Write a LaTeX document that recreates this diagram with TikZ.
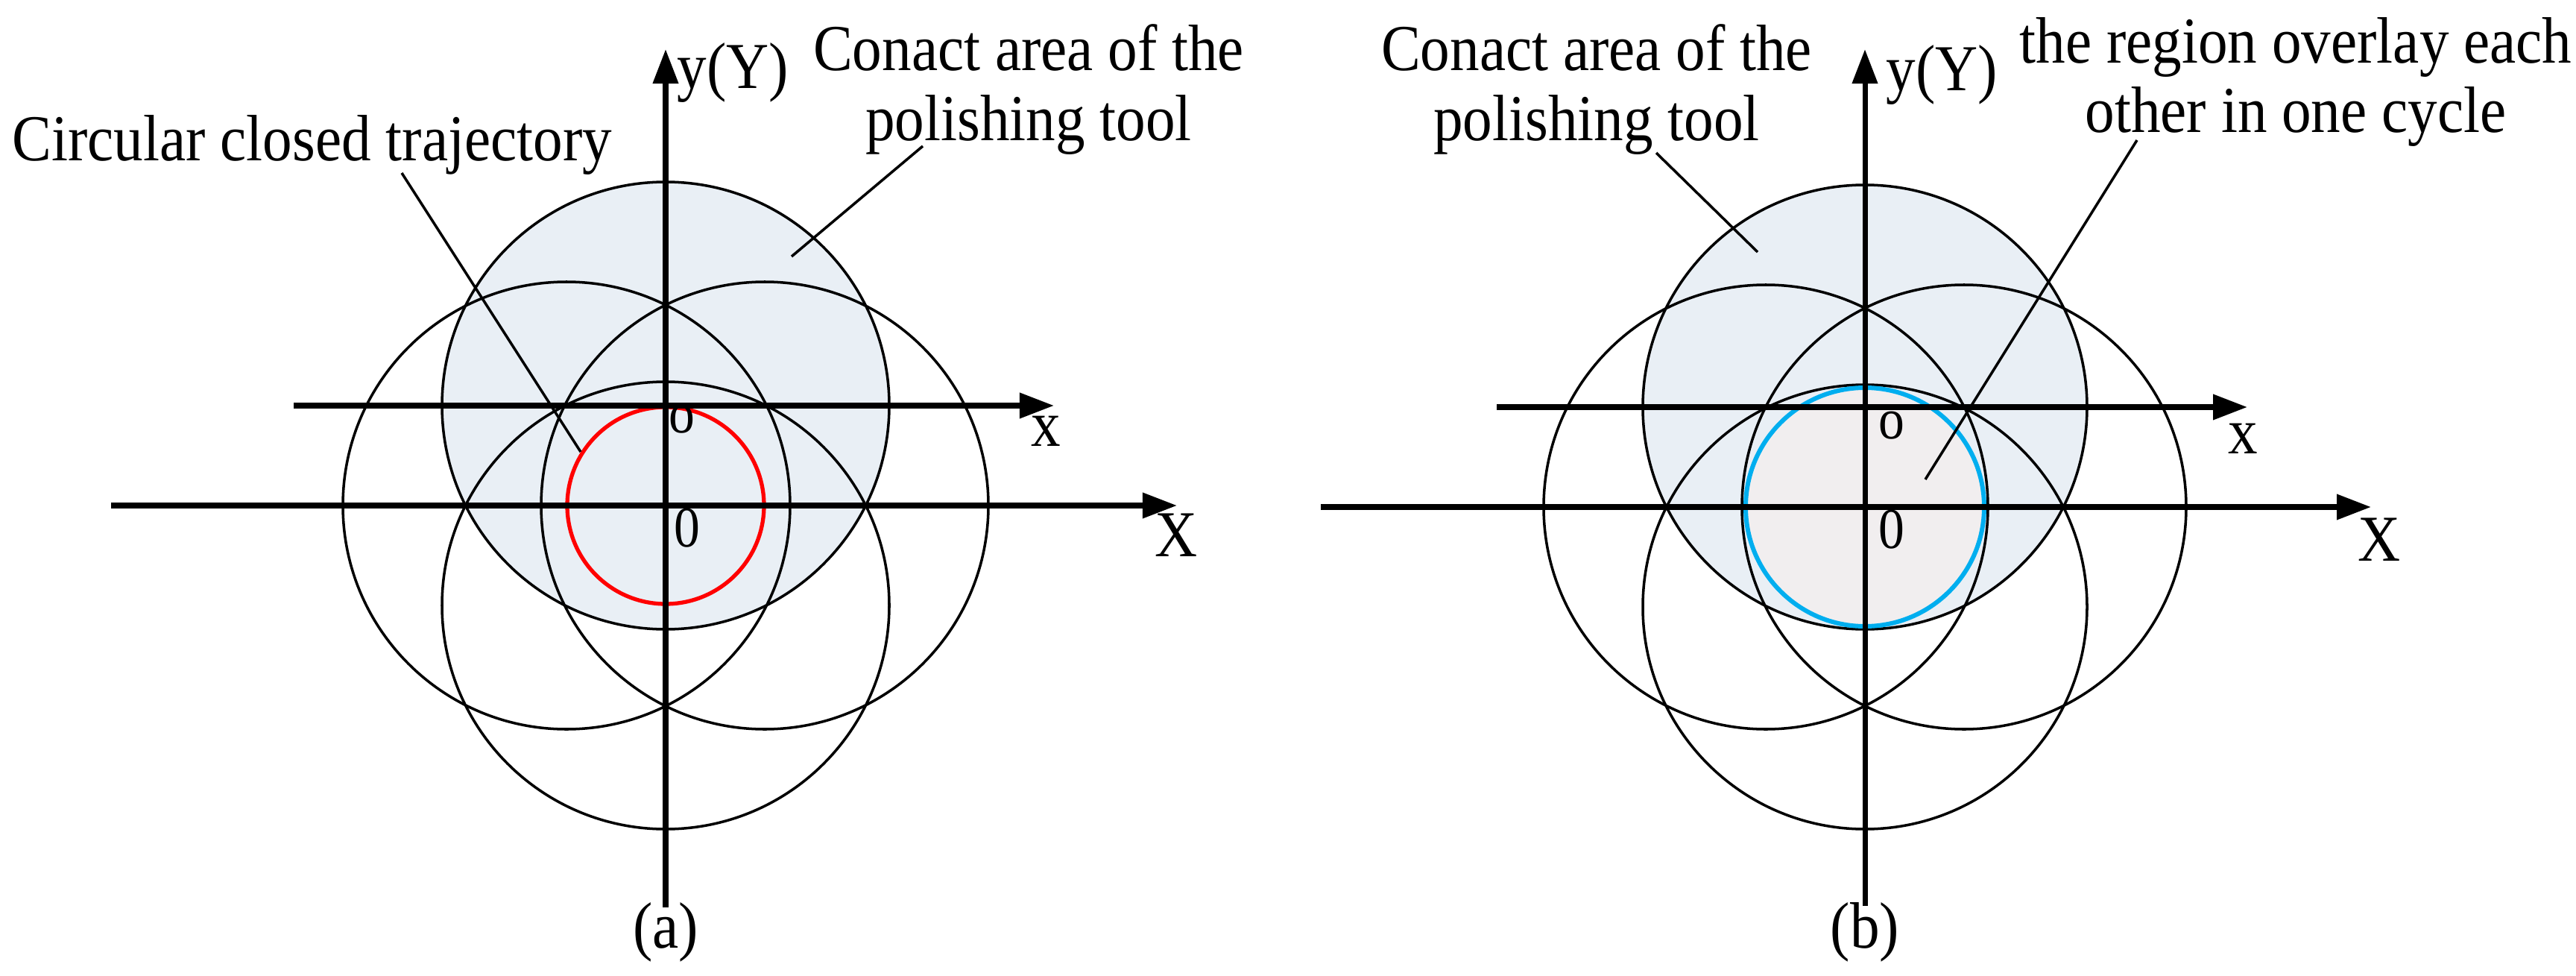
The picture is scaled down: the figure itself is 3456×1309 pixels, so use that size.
\documentclass[tikz,border=0pt]{standalone}
\usepackage{fontspec}
\setmainfont{Liberation Serif}[FakeStretch=0.9]
\usetikzlibrary{arrows.meta}
\definecolor{toolfill}{HTML}{E9EFF5}
\definecolor{overfill}{HTML}{F1EEEF}
\definecolor{trajblue}{HTML}{00AEEF}
\begin{document}
\begin{tikzpicture}[x=0.01cm,y=-0.01cm,
  txt/.style={inner sep=0pt,font=\fontsize{25}{26.5}\selectfont,align=center},
  lbl/.style={inner sep=0pt,font=\fontsize{22}{24}\selectfont},
  tool/.style={draw=black,line width=1pt},
  axis/.style={line width=2pt,-{Triangle[length=4.6mm,width=3.3mm]}},
  leader/.style={line width=1pt}]
\useasboundingbox (0,0) rectangle (3456,1309);
% ---------- panel (a)
\coordinate (Oa) at (893,678);
\coordinate (oa) at (893,544);
\fill[toolfill] (oa) circle (300);
\foreach \p in {(893,544),(760,678),(1026,678),(893,812)}
  \draw[tool] \p circle (300);
\draw[red,line width=1.5pt] (Oa) circle (132);
\draw[axis] (149,678) -- (1579,678);
\draw[axis] (394,544) -- (1414,544);
\draw[axis] (893,1217) -- (893,66);
\node[txt,anchor=west] (ya) at (908,97) {y(Y)};
\node[txt] (xa) at (1403,578) {x};
\node[txt] (Xa) at (1578,718) {X};
\node[lbl] (osa) at (915,563) {o};
\node[lbl] (zsa) at (922,708) {0};
\node[txt] (capa) at (893,1250) {(a)};
\node[txt,anchor=base west] (traj) at (16,215) {Circular closed trajectory};
\node[txt] (cona) at (1380,120) {Conact area of the\\polishing tool};
\coordinate (trajend) at (779,606);
\coordinate (conaend) at (1062,344);
\draw[leader] (539,232) -- (trajend);
\draw[leader] (1238,196) -- (conaend);
% ---------- panel (b)
\coordinate (Ob) at (2502,680);
\coordinate (ob) at (2502,546);
\fill[toolfill] (ob) circle (298);
\fill[overfill] (Ob) circle (160);
\foreach \p in {(2502,546),(2369,680),(2635,680),(2502,814)}
  \draw[tool] \p circle (298);
\draw[trajblue,line width=1.7pt] (Ob) circle (160);
\draw[axis] (1772,680) -- (3181,680);
\draw[axis] (2008,546) -- (3015,546);
\draw[axis] (2502,1215) -- (2502,66);
\node[txt,anchor=west] (yb) at (2530,100) {y(Y)};
\node[txt] (xb) at (3009,588) {x};
\node[txt] (Xb) at (3192,724) {X};
\node[lbl] (osb) at (2538,571) {o};
\node[lbl] (zsb) at (2538,710) {0};
\node[txt] (capb) at (2502,1250) {(b)};
\node[txt] (conb) at (2142,120) {Conact area of the\\polishing tool};
\node[txt] (reg) at (3080,110) {the region overlay each\\other in one cycle};
\coordinate (conbend) at (2358,338);
\coordinate (regend) at (2583,643);
\draw[leader] (2222,205) -- (conbend);
\draw[leader] (2867,188) -- (regend);
\end{tikzpicture}
\end{document}
